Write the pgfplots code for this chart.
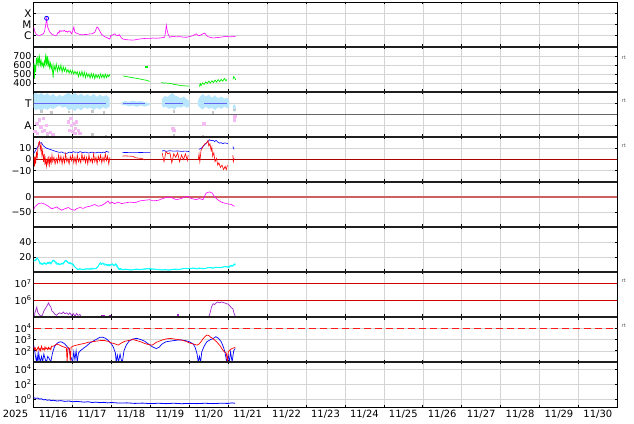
\documentclass[border=0pt]{standalone}
\usepackage{fontspec}
\setmainfont{DejaVu Sans}
\usepackage{pgfplots}
\pgfplotsset{compat=1.18}

\definecolor{lblue}{RGB}{184,230,252}
\definecolor{tblue}{RGB}{100,100,245}
\definecolor{lpink}{RGB}{242,188,242}
\definecolor{pviolet}{RGB}{160,40,200}
\definecolor{zred}{RGB}{205,95,95}
\definecolor{dred}{RGB}{170,0,0}
\definecolor{hred}{RGB}{205,0,0}
\definecolor{mag}{RGB}{255,0,255}
\definecolor{cyn}{RGB}{0,255,255}
\definecolor{grn}{RGB}{0,240,0}
\definecolor{blu}{RGB}{0,0,255}
\definecolor{rd}{RGB}{255,0,0}

\pgfplotsset{
  panel/.style={
    scale only axis, width=583.6bp, height=45bp,
    xmin=0, xmax=15, xtick={1,...,14}, xticklabels={},
    grid=major, major grid style={draw=black!17, line width=0.5bp},
    axis line style={draw=black, line width=0.7bp},
    tick align=inside, major tick length=2.5bp,
    tick style={draw=black, line width=0.6bp},
    yticklabel style={font=\fontsize{9.5}{10}\selectfont, inner xsep=2bp},
    unbounded coords=jump,
    every axis plot/.append style={line width=0.6bp},
  },
}

\begin{document}
\begin{tikzpicture}
\useasboundingbox (0,0) rectangle (634bp,424bp);

% 1: X-ray class
\begin{axis}[panel, at={(33.7bp,377bp)}, ymin=-7, ymax=-3,
  ytick={-6,-5,-4}, yticklabels={C,M,X},
  yticklabel style={font=\fontsize{10.5}{11}\selectfont}]
\addplot[mag] coordinates {
(0,-5.22)(0.02,-5.5)(0.035,-5.68)(0.06,-5.85)(0.09,-5.92)(0.12,-5.97)(0.16,-5.96)(0.2,-5.9)
(0.25,-5.83)(0.28,-5.6)(0.307,-5.06)(0.332,-4.45)(0.345,-4.9)(0.358,-5.22)(0.39,-5.5)(0.418,-5.68)
(0.46,-5.85)(0.503,-5.92)(0.54,-5.97)(0.589,-5.96)(0.61,-5.8)(0.632,-5.68)(0.65,-5.75)(0.674,-5.53)
(0.7,-5.62)(0.73,-5.55)(0.76,-5.6)(0.79,-5.52)(0.82,-5.64)(0.845,-5.6)(0.87,-5.68)(0.9,-5.58)
(0.931,-5.6)(0.95,-5.7)(0.973,-5.83)(1.0,-5.6)(1.033,-5.22)(1.045,-5.5)(1.059,-5.68)(1.1,-5.78)
(1.145,-5.83)(1.2,-5.9)(1.272,-5.92)(1.31,-5.88)(1.358,-5.89)(1.42,-5.85)(1.486,-5.83)(1.53,-5.78)
(1.572,-5.68)(1.6,-5.45)(1.62,-5.25)(1.64,-5.22)(1.67,-5.4)(1.7,-5.59)(1.74,-5.85)(1.785,-5.99)
(1.83,-6.1)(1.871,-6.14)(1.91,-6.22)(1.956,-6.29)(1.98,-6.0)(1.999,-5.99)(2.04,-5.9)(2.084,-5.83)
(2.12,-5.95)(2.17,-5.99)(2.2,-5.9)(2.255,-6.2)(2.3,-6.3)(2.384,-6.35)(2.45,-6.37)(2.555,-6.39)
(2.64,-6.34)(2.725,-6.29)(2.8,-6.26)(2.896,-6.23)(2.98,-6.24)(3.067,-6.2)(3.15,-6.22)(3.238,-6.2)
(3.3,-6.17)(3.366,-6.14)(3.39,-5.6)(3.409,-5.06)(3.43,-5.5)(3.452,-5.83)(3.495,-6.14)(3.54,-6.08)
(3.58,-6.05)(3.66,-6.1)(3.751,-6.08)(3.84,-6.12)(3.922,-6.14)(4.0,-6.08)(4.093,-5.99)(4.14,-5.9)
(4.178,-5.83)(4.22,-5.95)(4.264,-5.99)(4.31,-5.9)(4.349,-5.83)(4.392,-5.77)(4.44,-5.95)(4.477,-6.08)
(4.54,-6.15)(4.605,-6.2)(4.69,-6.17)(4.776,-6.14)(4.86,-6.1)(4.947,-6.05)(5.03,-6.1)(5.118,-6.08)
(5.187,-6.05)};
\addplot[blu, only marks, mark=o, mark size=2bp, mark options={line width=0.8bp}] coordinates {(0.332,-4.45)};
\end{axis}

% 2: solar wind speed
\begin{axis}[panel, at={(33.7bp,332bp)}, ymin=300, ymax=800,
  ytick={400,500,600,700}, yticklabels={400,500,600,700}]
\addplot[grn, line width=0.7bp] coordinates {
(0.00,560)(0.01,620)(0.02,450)(0.03,600)(0.05,520)(0.07,680)(0.09,600)(0.11,700)(0.13,610)(0.15,690)
(0.17,600)(0.19,650)(0.21,590)(0.23,620)(0.25,580)(0.27,640)(0.29,590)(0.31,725)(0.33,600)(0.35,700)
(0.37,580)(0.39,650)(0.41,570)(0.43,620)(0.45,560)(0.47,600)(0.50,460)(0.52,600)(0.55,540)(0.58,610)
(0.61,530)(0.64,590)(0.67,540)(0.70,600)(0.73,520)(0.76,580)(0.79,530)(0.82,570)(0.85,520)(0.88,550)
(0.91,510)(0.94,545)(0.97,505)(1.00,540)(1.03,500)(1.06,530)(1.09,500)(1.12,525)(1.15,470)(1.18,520)
(1.21,480)(1.24,530)(1.27,470)(1.30,520)(1.33,460)(1.36,510)(1.39,470)(1.42,500)(1.45,455)(1.48,505)
(1.51,460)(1.54,500)(1.57,450)(1.60,495)(1.63,460)(1.66,490)(1.69,455)(1.72,500)(1.75,460)(1.78,495)
(1.81,455)(1.84,500)(1.87,460)(1.90,490)(1.93,470)(1.96,500)(1.97,nan)
(2.30,478)(2.4,470)(2.5,462)(2.6,455)(2.7,447)(2.8,438)(2.9,430)(2.98,418)(3.0,nan)
(3.28,405)(3.35,400)(3.45,398)(3.55,392)(3.6,385)(3.7,378)(3.8,370)(3.9,368)(4.0,365)(4.01,nan)
(4.26,360)(4.28,395)(4.3,372)(4.34,400)(4.38,385)(4.42,412)(4.46,395)(4.5,420)(4.54,400)(4.58,425)
(4.62,405)(4.66,432)(4.7,410)(4.74,438)(4.78,415)(4.82,440)(4.86,420)(4.9,450)(4.94,425)(4.97,440)(5.0,nan)
(5.12,440)(5.14,470)(5.17,455)(5.19,435)};
\addplot[grn, only marks, mark=square*, mark size=0.8bp] coordinates {(2.9,578)};
\end{axis}

% 3: T / A
\begin{axis}[panel, at={(33.7bp,287bp)}, ymin=0, ymax=2,
  ytick={0.5,1.5}, yticklabels={A,T},
  yticklabel style={font=\fontsize{10.5}{11}\selectfont}]
\addplot[fill=lblue, draw=none] coordinates {
(0,1.9)(0.05,1.97)(0.12,1.88)(0.2,1.96)(0.28,1.85)(0.35,1.95)(0.42,1.82)(0.5,1.92)(0.58,1.78)(0.66,1.88)
(0.74,1.8)(0.82,1.9)(0.9,1.97)(0.98,1.86)(1.06,1.96)(1.14,1.84)(1.22,1.93)(1.3,1.82)(1.38,1.9)(1.46,1.8)
(1.54,1.92)(1.62,1.78)(1.7,1.88)(1.78,1.8)(1.86,1.86)(1.95,1.75)
(1.95,1.35)(1.86,1.25)(1.78,1.32)(1.7,1.22)(1.62,1.3)(1.54,1.2)(1.46,1.3)(1.38,1.25)(1.3,1.32)(1.22,1.18)
(1.14,1.28)(1.06,1.15)(0.98,1.25)(0.9,1.18)(0.82,1.35)(0.74,1.3)(0.66,1.4)(0.58,1.32)(0.5,1.25)(0.42,1.3)
(0.35,1.2)(0.28,1.28)(0.2,1.15)(0.12,1.25)(0.05,1.18)(0,1.3)};
\addplot[fill=lblue, draw=none] coordinates {
(2.26,1.55)(2.35,1.6)(2.45,1.56)(2.55,1.62)(2.65,1.57)(2.75,1.6)(2.85,1.55)(2.98,1.5)
(2.98,1.42)(2.85,1.35)(2.75,1.4)(2.65,1.34)(2.55,1.4)(2.45,1.36)(2.35,1.42)(2.26,1.4)};
\addplot[fill=lblue, draw=none] coordinates {
(3.3,1.7)(3.37,1.82)(3.45,1.78)(3.52,1.9)(3.57,1.97)(3.62,1.85)(3.7,1.8)(3.78,1.72)(3.86,1.8)(3.93,1.68)(4.0,1.6)
(4.0,1.35)(3.93,1.3)(3.86,1.38)(3.78,1.3)(3.7,1.35)(3.62,1.22)(3.55,1.3)(3.47,1.25)(3.4,1.35)(3.33,1.3)(3.3,1.4)};
\addplot[fill=lblue, draw=none] coordinates {
(4.22,1.6)(4.28,1.82)(4.35,1.9)(4.42,1.8)(4.5,1.88)(4.58,1.75)(4.66,1.85)(4.74,1.72)(4.82,1.8)(4.9,1.7)(4.97,1.75)(5.03,1.6)
(5.03,1.35)(4.97,1.28)(4.9,1.35)(4.82,1.25)(4.74,1.32)(4.66,1.2)(4.58,1.3)(4.5,1.25)(4.42,1.35)(4.35,1.22)(4.28,1.3)(4.22,1.4)};
\addplot[fill=lblue, draw=none] coordinates {(5.12,1.42)(5.17,1.45)(5.2,1.3)(5.18,1.12)(5.13,1.15)};
\addplot[tblue, line width=1.3bp] coordinates {
(0,1.5)(1.85,1.5)(1.9,nan)(2.3,1.5)(2.86,1.5)(2.9,nan)(3.37,1.5)(3.84,1.5)(3.9,nan)(4.37,1.5)(4.97,1.5)};
\addplot[black!22, only marks, mark=square*, mark size=0.8bp] coordinates {
(0.2,1.15)(0.45,1.1)(0.9,1.12)(1.5,1.15)(1.8,1.1)(3.6,1.15)(4.6,1.1)(5.15,1.2)
(0.35,0.05)(1.5,0.12)(1.85,0.06)(3.6,0.08)(4.35,0.05)};
\addplot[lpink, only marks, mark=square*, mark size=1.2bp] coordinates {
(0.03,0.24)(0.08,0.61)(0.1,0.16)(0.14,0.76)(0.18,0.46)(0.22,0.24)(0.25,0.83)(0.27,0.31)(0.32,0.53)
(0.35,0.16)(0.42,0.2)(0.49,0.13)(0.89,0.68)(0.91,0.31)(0.95,0.83)(0.97,0.53)(1.0,0.24)(1.03,0.61)
(1.07,0.38)(1.1,0.68)(1.14,0.31)(1.19,0.16)(1.06,0.16)(3.58,0.39)(3.6,0.3)(4.37,0.58)
(5.16,0.75)(5.16,0.85)(5.17,0.92)(5.16,0.8)};
\addplot[black!60, line width=0.8bp] coordinates {(0,1)(15,1)};
\end{axis}

% 4: Bt / Bz
\begin{axis}[panel, at={(33.7bp,242bp)}, ymin=-20, ymax=20,
  ytick={-10,0,10}, yticklabels={−10,0,10}]
\addplot[dred, line width=0.8bp] coordinates {(0,0)(15,0)};
\addplot[blu] coordinates {
(0,5.4)(0.03,7)(0.08,10)(0.12,12)(0.16,14.5)(0.2,15)(0.25,12)(0.29,11)(0.33,10)(0.42,9)(0.5,8)
(0.55,7.4)(0.59,7)(0.63,6.6)(0.67,6.3)(0.72,6.7)(0.76,6)(0.8,5.6)(0.85,5.4)(0.89,6.2)(0.93,6.6)
(0.97,6)(1.02,7)(1.06,6.4)(1.1,6.6)(1.15,6.2)(1.19,7)(1.23,6.5)(1.27,6)(1.32,6.6)(1.36,6.3)(1.4,5.8)
(1.44,6)(1.49,6.5)(1.53,6.3)(1.57,5.8)(1.61,6)(1.66,6.5)(1.7,6.3)(1.74,5.9)(1.79,6.6)(1.83,6.2)
(1.87,7.2)(1.94,6.3)(1.95,nan)
(2.28,6.3)(2.5,6.1)(2.75,6.2)(3.0,6.1)(3.02,nan)
(3.3,7.5)(3.35,8)(3.4,7.2)(3.5,7.8)(3.6,7.4)(3.7,7.6)(3.8,7.2)(3.9,7.5)(4.0,7)(4.02,nan)
(4.25,9)(4.31,10)(4.39,13)(4.48,16)(4.52,17.5)(4.56,16.8)(4.61,17)(4.65,16)(4.69,17)(4.73,15.5)
(4.78,14.5)(4.82,15)(4.86,14)(4.9,14.8)(4.95,14.5)(4.99,14)(5.0,nan)
(5.12,11.5)(5.15,9)};
\addplot[rd] coordinates {
(0.00,2)(0.02,-6)(0.03,3)(0.05,-4)(0.07,7)(0.09,1)(0.11,11)(0.13,15)(0.15,16)(0.17,9)(0.19,13)(0.21,4)
(0.23,8)(0.25,-2)(0.27,5)(0.29,-5)(0.31,1)(0.33,-6)(0.35,0)(0.37,-4)(0.39,3)(0.41,-5)(0.43,1)(0.45,-3)
(0.47,4)(0.49,-2)(0.52,2)(0.55,-4)(0.58,1)(0.61,-3)(0.64,4)(0.67,-2)(0.70,3)(0.73,-4)(0.76,2)(0.79,-3)
(0.82,5)(0.85,-2)(0.88,1)(0.91,-4)(0.94,3)(0.97,-1)(1.00,4)(1.03,-3)(1.06,2)(1.09,-4)(1.12,4)(1.15,-2)
(1.18,1)(1.21,-3)(1.24,5)(1.27,-1)(1.30,3)(1.33,-3)(1.36,2)(1.39,-4)(1.42,4)(1.45,-2)(1.48,1)(1.51,-3)
(1.54,5)(1.57,-2)(1.60,2)(1.63,-4)(1.66,3)(1.69,-1)(1.72,4)(1.75,-3)(1.78,2)(1.81,-2)(1.84,5)(1.87,-1)
(1.90,3)(1.93,-4)(1.96,2)(1.97,nan)
(2.28,3)(2.35,3.2)(2.45,3)(2.55,2.8)(2.62,1.5)(2.7,1.2)(2.78,1.0)(2.85,-0.5)(2.9,nan)
(3.3,6)(3.35,-2)(3.4,7)(3.45,5)(3.5,6)(3.55,-3)(3.6,5)(3.65,2)(3.7,6)(3.75,-2)(3.8,4)(3.85,0)
(3.9,5)(3.95,-1)(3.97,4)(4.0,nan)
(4.23,0)(4.25,5)(4.27,-2)(4.3,8)(4.33,10)(4.36,12)(4.4,14)(4.45,15)(4.48,17)(4.5,12)(4.53,14)
(4.56,8)(4.58,11)(4.6,3)(4.63,6)(4.66,-2)(4.7,1)(4.73,-5)(4.76,-3)(4.8,-7)(4.84,-5)(4.88,-9)
(4.92,-6)(4.95,-9)(4.98,-5)(5.0,nan)
(5.12,4)(5.13,-2)(5.15,1)};
\end{axis}

% 5: Dst
\begin{axis}[panel, at={(33.7bp,197bp)}, ymin=-100, ymax=50,
  ytick={-50,0}, yticklabels={−50,0}]
\addplot[zred, line width=1.5bp] coordinates {(0,0)(15,0)};
\addplot[mag] coordinates {
(0,-42)(0.03,-33)(0.12,-22)(0.2,-20)(0.29,-24)(0.38,-31)(0.46,-39)(0.5,-38)(0.59,-33)(0.63,-37)
(0.72,-44)(0.8,-39)(0.89,-35)(0.97,-42)(1.06,-44)(1.1,-39)(1.19,-35)(1.27,-38)(1.36,-33)(1.44,-31)
(1.57,-25)(1.66,-31)(1.74,-28)(1.83,-22)(1.91,-13)(1.96,-22)(2.0,-17)(2.08,-22)(2.17,-17)(2.26,-22)
(2.34,-20)(2.47,-17)(2.6,-19)(2.73,-13)(2.85,-11)(2.98,-9)(3.07,-13)(3.2,-11)(3.32,-5)(3.45,0)
(3.54,-2)(3.67,-9)(3.79,-5)(3.88,0)(3.96,2)(4.05,-5)(4.18,-9)(4.26,-5)(4.35,-9)(4.43,13)(4.52,17)
(4.59,13)(4.65,0)(4.73,-9)(4.82,-17)(4.95,-22)(5.08,-25)(5.16,-31)};
\end{axis}

% 6: cyan
\begin{axis}[panel, at={(33.7bp,152bp)}, ymin=0, ymax=60,
  ytick={20,40}, yticklabels={20,40}]
\addplot[cyn, line width=0.7bp] coordinates {
(0,14)(0.04,16)(0.08,18.5)(0.12,17)(0.16,10.5)(0.2,12)(0.24,10)(0.28,12.5)(0.32,10)(0.36,13)(0.4,12)
(0.44,10.5)(0.48,14)(0.52,16)(0.56,12)(0.6,10)(0.64,11.5)(0.68,9.5)(0.72,12)(0.76,10.5)(0.8,14)
(0.84,15.5)(0.88,13)(0.92,11)(0.96,12)(1.0,9.5)(1.04,8)(1.08,6)(1.12,4)(1.16,3.5)(1.2,4)(1.3,3.5)
(1.4,4)(1.5,5)(1.6,4.5)(1.65,7)(1.7,11)(1.74,10)(1.78,12)(1.82,9)(1.86,10.5)(1.9,8.5)(1.94,10)
(1.98,9)(2.02,11)(2.06,9)(2.1,10)(2.14,7)(2.18,4)(2.22,5)(2.3,3)(2.4,3.5)(2.5,2.5)(2.6,3.5)(2.7,3)
(2.8,4)(2.9,4.5)(3.0,3.5)(3.1,4)(3.2,3)(3.3,2.5)(3.4,3)(3.5,2.5)(3.6,3.5)(3.7,3)(3.8,4)(3.9,5)
(4.0,4)(4.1,5.5)(4.2,4)(4.3,5)(4.4,4.5)(4.5,6)(4.6,5)(4.7,6.5)(4.8,5.5)(4.9,7)(5.0,6.5)(5.05,8.5)
(5.1,7.5)(5.15,10)(5.18,9)};
\addplot[cyn, line width=0.7bp] coordinates {
(0,16)(0.05,15)(0.09,19)(0.13,15.5)(0.17,12)(0.21,10)(0.25,12)(0.29,11)(0.33,12)(0.37,11)(0.41,13.5)
(0.45,12)(0.49,15.5)(0.53,14)(0.57,13.5)(0.61,11.5)(0.65,10)(0.69,11)(0.73,10.5)(0.77,12.5)(0.81,15.5)
(0.85,14)(0.89,12)(0.93,12.5)(0.97,10.5)(1.01,11)(1.05,7)(1.09,5)(1.13,3)(1.18,4.5)(1.25,3)(1.35,4.5)
(1.45,3.5)(1.55,4)(1.62,5.5)(1.67,9)(1.71,12.5)(1.75,11.5)(1.79,10.5)(1.83,11)(1.87,9)(1.91,10)
(1.95,8)(1.99,10.5)(2.03,9.5)(2.07,8)(2.11,11)(2.15,8.5)(2.19,3.5)(2.25,3)(2.35,4)(2.45,3)(2.55,3)
(2.65,4)(2.75,3.5)(2.85,3.5)(2.95,5)(3.05,4)(3.15,3.5)(3.25,3.5)(3.35,3.5)(3.45,2.5)(3.55,3.5)
(3.65,4)(3.75,3.5)(3.85,4.5)(3.95,4.5)(4.05,5)(4.15,4.5)(4.25,5.5)(4.35,4)(4.45,5.5)(4.55,6)
(4.65,5.5)(4.75,6)(4.85,6.5)(4.95,7.5)(5.02,6)(5.07,9)(5.12,8)(5.16,11)(5.19,10)};
\end{axis}

% 7: proton flux (log10)
\begin{axis}[panel, at={(33.7bp,107bp)}, ymin=5, ymax=7.7,
  ytick={6,7}, yticklabels={10\textsuperscript{6},10\textsuperscript{7}}]
\addplot[hred, line width=0.8bp] coordinates {(0,6)(15,6)};
\addplot[hred, line width=0.8bp] coordinates {(0,7)(15,7)};
\addplot[pviolet, line width=0.7bp] coordinates {
(0.02,5.0)(0.03,5.25)(0.06,5.45)(0.08,5.6)(0.1,5.3)(0.14,5.15)(0.18,5.05)(0.22,5.1)(0.26,5.35)
(0.31,5.55)(0.35,5.7)(0.38,5.85)(0.41,5.7)(0.44,5.6)(0.47,5.35)(0.5,5.3)(0.55,5.15)(0.59,5.1)
(0.63,5.2)(0.67,5.25)(0.72,5.2)(0.76,5.3)(0.8,5.2)(0.85,5.25)(0.89,5.15)(0.93,5.25)(0.97,5.1)
(1.02,5.2)(1.06,5.05)(1.1,5.2)(1.14,5.1)(1.19,5.15)(1.21,5.0)(1.22,nan)
(4.5,5.0)(4.54,5.3)(4.57,5.6)(4.61,5.8)(4.65,5.75)(4.69,5.85)(4.73,5.9)(4.78,5.85)(4.82,5.9)
(4.86,5.88)(4.9,5.85)(4.95,5.8)(4.99,5.78)(5.03,5.7)(5.08,5.55)(5.12,5.5)(5.14,5.3)(5.17,5.1)(5.19,5.0)};
\addplot[pviolet, only marks, mark=square*, mark size=0.5bp] coordinates {
(1.74,5.08)(1.79,5.1)(1.96,5.1)(3.71,5.15)};
\end{axis}

% 8: electron flux (log10)
\begin{axis}[panel, at={(33.7bp,62bp)}, ymin=1, ymax=5,
  ytick={2,3,4}, yticklabels={10\textsuperscript{2},10\textsuperscript{3},10\textsuperscript{4}}]
\addplot[rd!90, line width=1bp, dash pattern=on 7bp off 4bp] coordinates {(0,4)(15,4)};
\addplot[blu, line width=0.7bp] coordinates {
(0,2.5)(0.03,1.9)(0.05,1.4)(0.07,1.0)(0.09,1.6)(0.11,1.0)(0.13,1.8)(0.15,1.3)(0.17,1.0)(0.2,1.5)
(0.23,1.0)(0.26,1.7)(0.3,1.2)(0.33,1.0)(0.36,1.5)(0.4,1.3)(0.44,1.0)(0.47,1.6)(0.5,2.0)(0.54,2.4)
(0.6,2.65)(0.64,2.75)(0.7,2.8)(0.76,2.7)(0.8,2.6)(0.85,2.4)(0.9,2.2)(0.95,1.5)(1.0,1.0)(1.03,1.9)
(1.06,1.2)(1.09,2.0)(1.12,1.0)(1.15,1.8)(1.2,2.0)(1.27,2.2)(1.35,2.4)(1.45,2.7)(1.55,2.9)(1.63,3.05)
(1.7,3.2)(1.78,3.2)(1.85,3.1)(1.92,2.9)(2.0,2.6)(2.05,2.3)(2.1,1.8)(2.12,1.0)(2.15,1.6)(2.18,1.0)
(2.22,1.7)(2.25,1.2)(2.28,1.0)(2.32,2.0)(2.38,2.5)(2.45,2.85)(2.55,3.05)(2.65,3.1)(2.75,3.0)
(2.85,2.85)(2.95,2.6)(3.05,2.35)(3.15,2.2)(3.22,2.3)(3.3,2.6)(3.4,2.8)(3.5,2.85)(3.6,2.9)(3.7,2.95)
(3.8,2.95)(3.9,2.9)(4.0,2.8)(4.1,2.6)(4.15,2.3)(4.2,1.7)(4.23,1.0)(4.26,1.5)(4.29,1.0)(4.32,1.9)
(4.38,2.4)(4.45,2.8)(4.55,3.0)(4.62,3.1)(4.68,3.25)(4.75,3.1)(4.82,2.8)(4.88,2.3)(4.92,1.8)(4.96,1.0)
(5.0,1.6)(5.03,1.0)(5.06,1.9)(5.1,1.0)(5.14,2.0)(5.18,2.2)};
\addplot[rd, line width=0.7bp] coordinates {
(0,2.36)(0.02,2.1)(0.04,2.25)(0.07,2.0)(0.09,2.15)(0.12,2.35)(0.14,2.05)(0.16,2.2)(0.18,2.0)(0.2,2.4)
(0.23,2.1)(0.25,2.2)(0.27,2.05)(0.29,2.35)(0.31,2.15)(0.33,2.25)(0.36,2.1)(0.38,2.3)(0.4,2.15)
(0.42,2.25)(0.44,2.1)(0.46,2.4)(0.5,2.4)(0.55,2.5)(0.59,2.6)(0.63,2.55)(0.67,2.5)(0.72,2.4)(0.76,2.35)
(0.8,2.3)(0.84,2.25)(0.86,1.0)(0.88,2.3)(0.92,2.2)(0.94,1.0)(0.96,2.3)(1.0,2.4)(1.1,2.5)(1.2,2.58)
(1.3,2.65)(1.4,2.75)(1.5,2.8)(1.6,2.85)(1.7,2.9)(1.8,2.92)(1.9,2.85)(2.0,2.7)(2.1,2.6)(2.17,2.5)
(2.25,2.68)(2.35,2.85)(2.45,2.92)(2.55,3.0)(2.65,2.9)(2.75,2.8)(2.85,2.65)(2.95,2.55)(3.05,2.5)
(3.15,2.75)(3.3,2.95)(3.4,3.05)(3.5,3.1)(3.6,3.05)(3.7,3.0)(3.8,2.95)(3.9,2.85)(4.0,2.7)(4.1,2.6)
(4.2,2.5)(4.25,2.6)(4.3,2.8)(4.35,3.05)(4.4,3.25)(4.45,3.4)(4.5,3.35)(4.55,3.2)(4.6,3.1)(4.65,2.95)
(4.7,2.8)(4.75,2.6)(4.8,2.4)(4.85,2.1)(4.9,1.9)(4.95,1.8)(4.98,1.0)(5.0,1.9)(5.05,2.1)(5.1,2.2)(5.18,2.3)};
\end{axis}

% 9: low flux (log10)
\begin{axis}[panel, at={(33.7bp,17bp)}, ymin=-1, ymax=5,
  ytick={0,2,4}, yticklabels={10\textsuperscript{0},10\textsuperscript{2},10\textsuperscript{4}},
  extra x ticks={0.5,1.5,...,14.5},
  extra x tick labels={11/16,11/17,11/18,11/19,11/20,11/21,11/22,11/23,11/24,11/25,11/26,11/27,11/28,11/29,11/30},
  extra x tick style={grid=none, major tick length=0pt,
    xticklabel style={font=\fontsize{10}{12}\selectfont}}]
\addplot[blu, line width=0.8bp] coordinates {
(0,0.25)(0.05,0.15)(0.1,0.2)(0.15,0.05)(0.2,0.1)(0.25,-0.05)(0.3,0.0)(0.35,-0.1)(0.4,-0.05)(0.45,-0.15)
(0.5,-0.1)(0.6,-0.2)(0.7,-0.15)(0.8,-0.25)(0.9,-0.2)(1.0,-0.3)(1.1,-0.25)(1.2,-0.3)(1.3,-0.35)(1.4,-0.3)
(1.5,-0.4)(1.6,-0.35)(1.7,-0.42)(1.8,-0.38)(1.9,-0.45)(2.0,-0.4)(2.2,-0.48)(2.4,-0.45)(2.6,-0.52)
(2.8,-0.48)(3.0,-0.55)(3.2,-0.5)(3.4,-0.55)(3.6,-0.5)(3.8,-0.56)(4.0,-0.52)(4.2,-0.55)(4.4,-0.5)
(4.6,-0.55)(4.8,-0.5)(5.0,-0.52)(5.1,-0.45)(5.18,-0.5)};
\end{axis}

% heavy separators between panels
\foreach \yy in {377,332,287,242,197,152,107,62}
  \draw[line width=1.8bp, black!88] (33.7bp,\yy bp) -- (617.3bp,\yy bp);

\node[anchor=north, inner sep=0.3333em, font=\fontsize{10}{12}\selectfont] at (15.5bp,17bp) {2025};
\foreach \yy in {366.7,323,278,143,98}
  \node[anchor=west, inner sep=0pt, text=black!70, font=\fontsize{5}{5}\selectfont] at (621.5bp,\yy bp) {rt};
\end{tikzpicture}
\end{document}
